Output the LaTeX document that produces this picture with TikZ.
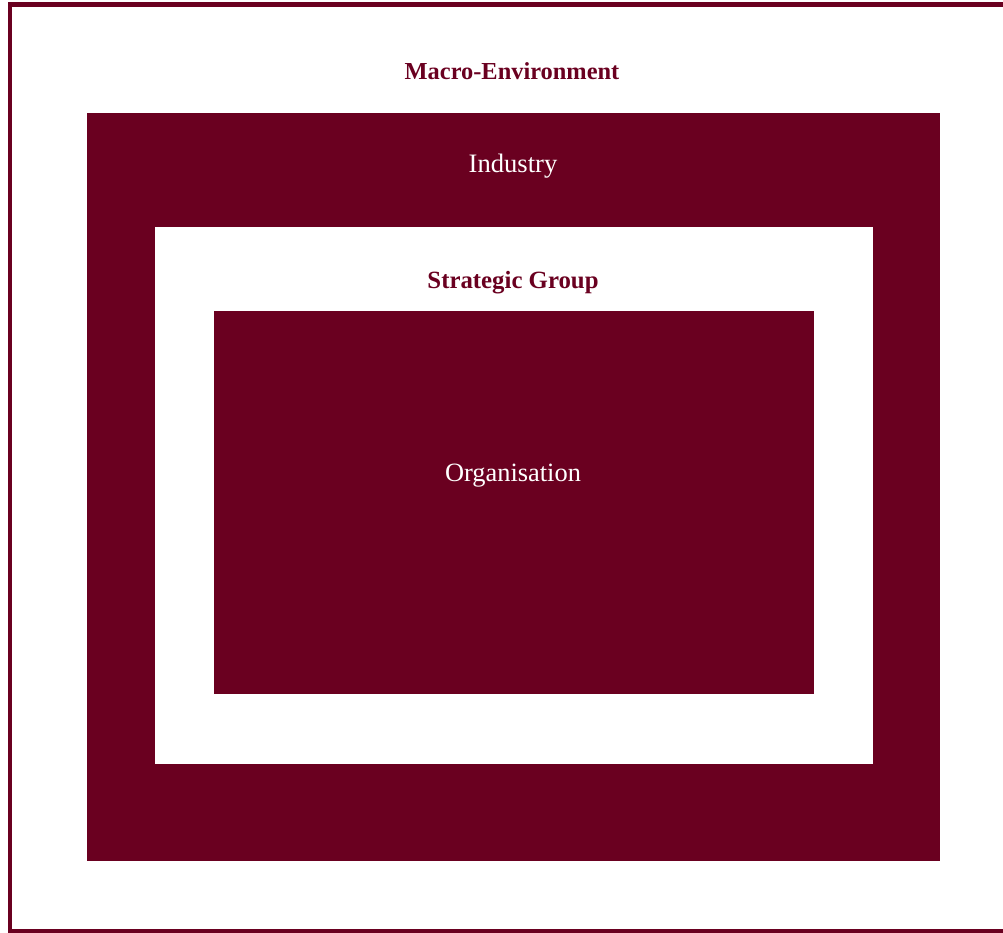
\documentclass[tikz,border=0pt]{standalone}
\usepackage{fontspec}
\setmainfont{Liberation Serif}
\definecolor{maroon}{RGB}{106,0,32}
\begin{document}
\begin{tikzpicture}[x=1pt,y=-1pt,
  band/.style={fill=maroon,draw=none},
  hole/.style={fill=white,draw=none},
  darklabel/.style={text=maroon,font=\bfseries,inner sep=0pt,anchor=base},
  lightlabel/.style={text=white,inner sep=0pt,anchor=base}]
\useasboundingbox (0,0) rectangle (1003,933);
% outer border (right side cut off)
\draw[maroon,line width=4.5pt] (1010,4.5) -- (10.2,4.5) -- (10.2,931.5) -- (1010,931.5);
\fill[band] (87,113) rectangle (940,861);
\fill[hole] (154.5,227) rectangle (873,764);
\fill[band] (214,311) rectangle (814,694);
\node[darklabel,font=\bfseries\fontsize{24.4}{28}\selectfont] (macro) at (512,80) {Macro-Environment};
\node[lightlabel,font=\fontsize{26.6}{30}\selectfont] (industry) at (513,173) {Industry};
\node[darklabel,font=\bfseries\fontsize{24.8}{28}\selectfont] (sg) at (513,288) {Strategic Group};
\node[lightlabel,font=\fontsize{26.4}{30}\selectfont] (org) at (513,481) {Organisation};
\end{tikzpicture}
\end{document}
